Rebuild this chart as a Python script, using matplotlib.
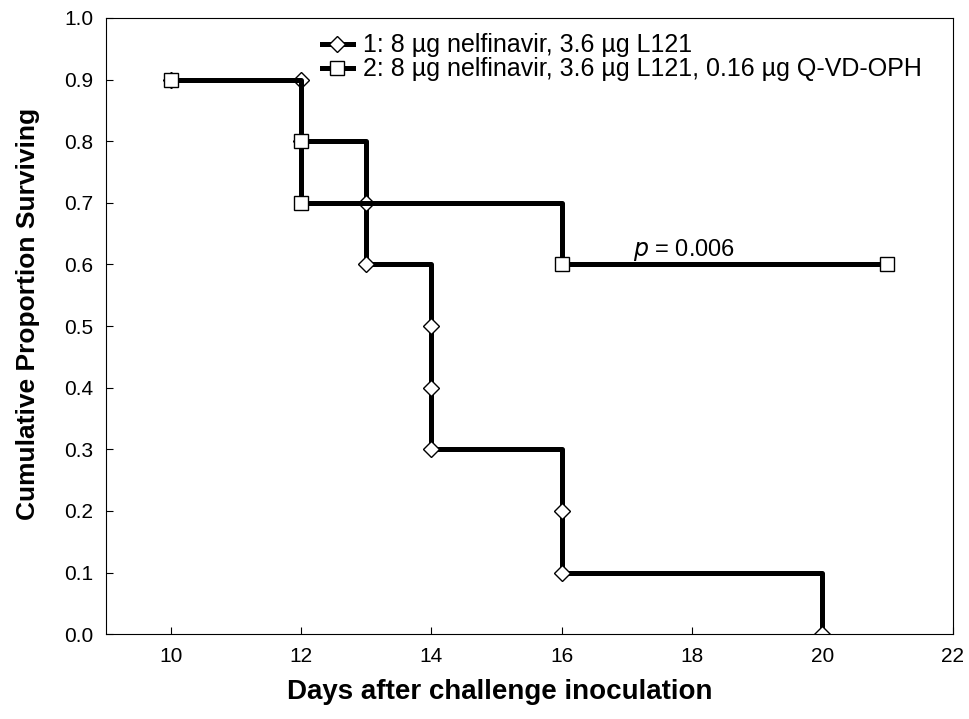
"""Kaplan-Meier style survival curves, nelfinavir / L121 / Q-VD-OPH."""

import matplotlib

matplotlib.use("Agg")
import matplotlib.pyplot as plt

plt.rcParams["font.family"] = ["Liberation Sans", "DejaVu Sans"]

# group 1: nelfinavir + L121 (diamonds)
days_1 = [10, 12, 12, 13, 13, 14, 14, 14, 16, 16, 20]
surv_1 = [0.9, 0.9, 0.8, 0.7, 0.6, 0.5, 0.4, 0.3, 0.2, 0.1, 0.0]
label_1 = "1: 8 µg nelfinavir, 3.6 µg L121"

# group 2: nelfinavir + L121 + Q-VD-OPH (squares)
days_2 = [10, 12, 12, 16, 21]
surv_2 = [0.9, 0.8, 0.7, 0.6, 0.6]
label_2 = "2: 8 µg nelfinavir, 3.6 µg L121, 0.16 µg Q-VD-OPH"

x_ticks = [10, 12, 14, 16, 18, 20, 22]
y_ticks = [0.0, 0.1, 0.2, 0.3, 0.4, 0.5, 0.6, 0.7, 0.8, 0.9, 1.0]
p_text = "$p$ = 0.006"

fig = plt.figure(figsize=(9.69, 7.19), dpi=100)
ax = fig.add_axes([0.109, 0.118, 0.874, 0.857])

ax.plot(days_1, surv_1, drawstyle="steps-post", color="black", lw=3.6,
        marker="D", markersize=8, markerfacecolor="white",
        markeredgecolor="black", markeredgewidth=1.0, label=label_1)
ax.plot(days_2, surv_2, drawstyle="steps-post", color="black", lw=3.6,
        marker="s", markersize=10, markerfacecolor="white",
        markeredgecolor="black", markeredgewidth=1.0, label=label_2)

ax.text(17.1, 0.603, p_text, fontsize=17, ha="left", va="bottom")

ax.set_xlim(9, 22)
ax.set_ylim(0, 1.0)
ax.set_xticks(x_ticks)
ax.set_yticks(y_ticks)
ax.set_yticklabels([f"{v:.1f}" for v in y_ticks])
ax.tick_params(direction="in", length=5, width=0.8, labelsize=15,
               top=False, right=False, pad=9)
for sp in ax.spines.values():
    sp.set_linewidth(0.8)

ax.set_xlabel("Days after challenge inoculation", fontsize=20,
              fontweight="bold")
ax.xaxis.set_label_coords(0.465, -0.072)
ax.set_ylabel("Cumulative Proportion Surviving", fontsize=19,
              fontweight="bold")
ax.yaxis.set_label_coords(-0.078, 0.52)

ax.legend(loc="upper left", bbox_to_anchor=(0.255, 0.975), frameon=False,
          fontsize=18, handlelength=1.25, handletextpad=0.4,
          labelspacing=0.0, borderaxespad=0, borderpad=0)

fig.savefig("out.png", dpi=100)
